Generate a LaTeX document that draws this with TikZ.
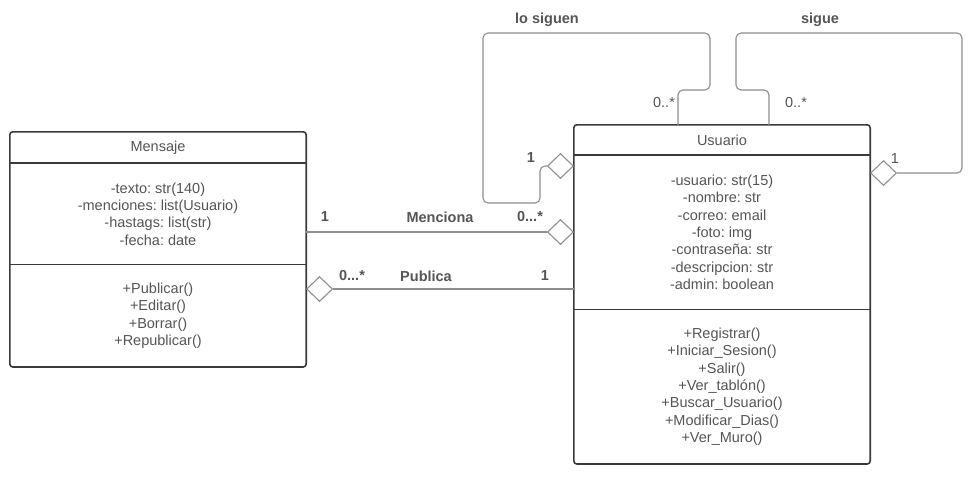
\documentclass[tikz,border=0pt]{standalone}
\usepackage{fontspec}
\setmainfont{Liberation Sans}
\frenchspacing
\usetikzlibrary{shapes.geometric, positioning}
\definecolor{textogris}{HTML}{555555}
\definecolor{lineagris}{HTML}{8E8E8E}
\definecolor{bordegris}{HTML}{3A3A3A}
\tikzstyle{titulo} = [rectangle, minimum width=296pt, inner sep=0pt, text centered, text=textogris, font=\fontsize{14.5}{17.3}\selectfont]
\tikzstyle{compart} = [rectangle, minimum width=296pt, inner sep=0pt, align=center, text=textogris, font=\fontsize{14.5}{17.3}\selectfont]
\tikzstyle{clase} = [draw=bordegris, line width=1.6pt, rounded corners=3pt]
\tikzstyle{divisor} = [draw=bordegris, line width=1.6pt]
\tikzstyle{linea} = [draw=lineagris, line width=1.1pt, rounded corners=5pt]
\tikzstyle{rombo} = [diamond, draw=lineagris, line width=1.1pt, fill=white, minimum width=26pt, minimum height=25pt, inner sep=0pt]
\tikzstyle{etiqueta} = [text=textogris, inner sep=1pt, font=\fontsize{14.5}{17.3}\selectfont\bfseries]
\tikzstyle{mult} = [text=textogris, inner sep=1pt, font=\fontsize{14.5}{17.3}\selectfont]

\begin{document}
\begin{tikzpicture}[x=1pt, y=-1pt]
    \useasboundingbox (0,0) rectangle (973,477);

    % clase Mensaje
    \node (mensaje-title) [titulo, minimum height=31pt] at (158,147.5) {Mensaje};
    \node (mensaje-attr) [compart, minimum height=101pt, below=0pt of mensaje-title] {-texto: str(140)\\-menciones: list(Usuario)\\-hastags: list(str)\\-fecha: date};
    \node (mensaje-ops) [compart, minimum height=102pt, below=0pt of mensaje-attr] {+Publicar()\\+Editar()\\+Borrar()\\+Republicar()};
    \draw [clase] (mensaje-title.north west) rectangle (mensaje-ops.south east);
    \draw [divisor] (mensaje-attr.north west) -- (mensaje-attr.north east);
    \draw [divisor] (mensaje-ops.north west) -- (mensaje-ops.north east);

    % clase Usuario
    \node (usuario-title) [titulo, minimum height=30pt] at (722,140) {Usuario};
    \node (usuario-attr) [compart, minimum height=154pt, below=0pt of usuario-title] {-usuario: str(15)\\-nombre: str\\-correo: email\\-foto: img\\-contraseña: str\\-descripcion: str\\-admin: boolean};
    \node (usuario-ops) [compart, minimum height=154pt, below=0pt of usuario-attr] {+Registrar()\\+Iniciar\_Sesion()\\+Salir()\\+Ver\_tablón()\\+Buscar\_Usuario()\\+Modificar\_Dias()\\+Ver\_Muro()};
    \draw [clase] (usuario-title.north west) rectangle (usuario-ops.south east);
    \draw [divisor] (usuario-attr.north west) -- (usuario-attr.north east);
    \draw [divisor] (usuario-ops.north west) -- (usuario-ops.north east);

    % rombos
    \node (rombo-siguen) [rombo, anchor=east] at (574,166) {};
    \node (rombo-sigue) [rombo, anchor=west] at (870,173) {};
    \node (rombo-menciona) [rombo, anchor=east] at (574,232) {};
    \node (rombo-publica) [rombo, anchor=west] at (306,289) {};

    \coordinate (pie-siguen) at (678,125);
    \coordinate (pie-sigue) at (769,125);

    % asociaciones
    \draw [linea] (rombo-siguen.west) -| (540,203) -| (483,33) -| (710,90) -| (pie-siguen);
    \draw [linea] (rombo-sigue.east) -| (962,33) -| (736,90) -| (pie-sigue);
    \draw [linea] (mensaje-attr.east |- rombo-menciona) -- (rombo-menciona.west);
    \draw [linea] (rombo-publica.east) -- (usuario-attr.west |- rombo-publica);

    % etiquetas
    \node (lbl-siguen) [etiqueta] at (547,20) {lo siguen};
    \node (lbl-sigue) [etiqueta] at (820,20) {sigue};
    \node (m-siguen-a) [mult] at (664,103) {0..*};
    \node (m-sigue-a) [mult] at (796,103) {0..*};
    \node (m-siguen-b) [etiqueta] at (531,158) {1};
    \node (m-sigue-b) [mult] at (895,159) {1};

    \node (lbl-menciona) [etiqueta] at (440,217) {Menciona};
    \node (m-menciona-a) [etiqueta] at (325,217) {1};
    \node (m-menciona-b) [etiqueta] at (530,217) {0...*};

    \node (lbl-publica) [etiqueta] at (426,276) {Publica};
    \node (m-publica-a) [etiqueta] at (352,276) {0...*};
    \node (m-publica-b) [etiqueta] at (545,276) {1};
\end{tikzpicture}
\end{document}
